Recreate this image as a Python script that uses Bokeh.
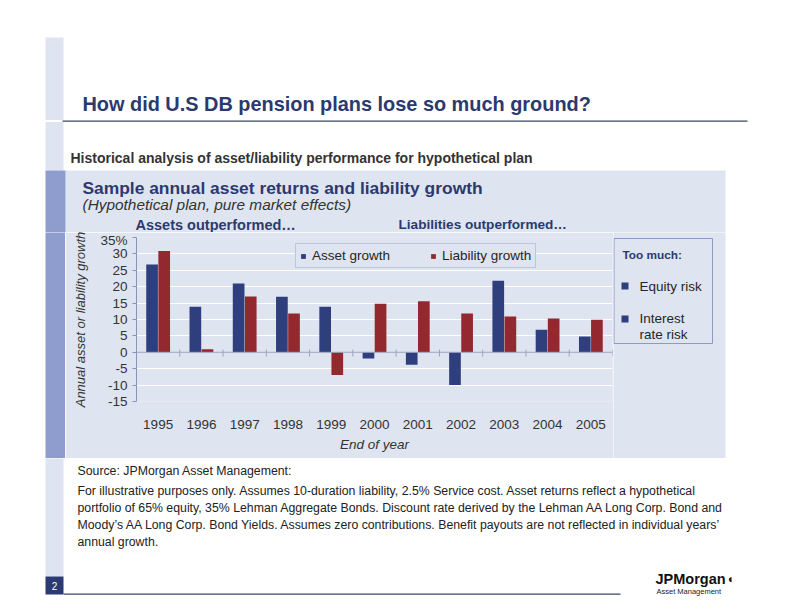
from bokeh.plotting import figure
from bokeh.layouts import column, row
from bokeh.models import (FactorRange, Range1d, FixedTicker, Label, Span, Legend,
                          LegendItem, ColumnDataSource)
from bokeh.transform import dodge
from bokeh.embed import file_html
from bokeh.resources import INLINE

# ---------------- data ----------------
years = ["1995", "1996", "1997", "1998", "1999", "2000", "2001", "2002", "2003", "2004", "2005"]
asset_growth = [26.8, 13.9, 21.0, 16.9, 13.9, -1.9, -3.8, -10.0, 21.8, 6.9, 4.8]
liability_growth = [30.9, 0.9, 17.0, 11.8, -6.9, 14.8, 15.6, 11.8, 10.9, 10.3, 9.9]
y_ticks = [-15, -10, -5, 0, 5, 10, 15, 20, 25, 30, 35]
y_tick_labels = ["-15", "-10", "-5", "0", "5", "10", "15", "20", "25", "30", "35%"]

# ---------------- style ----------------
NAVY = "#2b3a6e"
BLUE = "#2f3f7e"
RED = "#93282f"
PANEL = "#dfe4f1"
STRIPE = "#8f9cce"
TXT = "#262626"
GREY = "#333333"
LINE = "#3b4566"
SANS = "Liberation Sans"

# page coordinates
X0, X1 = 0, 776
Y_TOP, Y_MID0, Y_MID1, Y_BOT = 0, 232, 458, 596
CH_L, CH_R = 65, 613          # chart figure, horizontal extent
FR_L, FR_R, FR_T, FR_B = 136, 612, 237, 401   # chart frame


def no_align(f):
    if "frame_align" in f.properties():
        f.frame_align = False
    return f


def deco_fig(x0, x1, y0, y1):
    f = figure(width=int(x1 - x0), height=int(y1 - y0), output_backend="svg",
               toolbar_location=None, x_range=Range1d(x0, x1), y_range=Range1d(y1, y0),
               x_axis_type=None, y_axis_type=None, min_border=0)
    f.grid.visible = False
    f.outline_line_color = None
    f.background_fill_color = "white"
    f.border_fill_color = "white"
    return no_align(f)


def rect(f, l, r, t, b, color, line=None):
    f.quad(left=[l], right=[r], top=[t], bottom=[b], fill_color=color,
           line_color=line, line_width=1)


def text(f, x, y, t, size, color=TXT, style="normal", align="left", font=SANS):
    f.add_layout(Label(x=x, y=y, text=t, text_font=font, text_font_size=f"{size}px",
                       text_font_style=style, text_color=color, text_align=align,
                       text_baseline="middle"))


# ---------------- top band ----------------
top = deco_fig(X0, X1, Y_TOP, Y_MID0)
rect(top, 45, 63, 37, 119.5, PANEL)
rect(top, 45, 63, 121.5, 170, PANEL)
rect(top, 62, 747, 120, 121.3, LINE)
rect(top, 65, 725, 170, Y_MID0 + 1, PANEL)
rect(top, 45, 65, 170, Y_MID0 + 1, STRIPE)
text(top, 82, 103, "How did U.S DB pension plans lose so much ground?", 19.9, NAVY, "bold")
text(top, 70, 157, "Historical analysis of asset/liability performance for hypothetical plan",
     14, GREY, "bold")
text(top, 82, 187, "Sample annual asset returns and liability growth", 17.4, NAVY, "bold")
text(top, 82, 204, "(Hypothetical plan, pure market effects)", 15.4, GREY, "italic")
text(top, 135, 224, "Assets outperformed\u2026", 14.5, NAVY, "bold")
text(top, 398, 224, "Liabilities outperformed\u2026", 13.6, NAVY, "bold")

# ---------------- left of chart ----------------
left = deco_fig(X0, CH_L, Y_MID0, Y_MID1)
rect(left, 45, CH_L + 1, Y_MID0 - 1, Y_MID1 + 1, STRIPE)

# ---------------- right of chart ----------------
right = deco_fig(CH_R, X1, Y_MID0, Y_MID1)
rect(right, CH_R - 1, 725, Y_MID0 - 1, Y_MID1 + 1, PANEL)
rect(right, 613.5, 712, 238, 343, PANEL, "#8f99c4")
text(right, 622, 254, "Too much:", 11.8, NAVY, "bold")
rect(right, 621, 628, 282, 289, BLUE)
rect(right, 621, 628, 315, 322, BLUE)
text(right, 639, 286, "Equity risk", 13.5, TXT)
text(right, 639, 318, "Interest", 13.5, TXT)
text(right, 639, 334, "rate risk", 13.5, TXT)

# ---------------- bottom band ----------------
bot = deco_fig(X0, X1, Y_MID1, Y_BOT)
rect(bot, 45, 63, Y_MID1 - 1, 576, PANEL)
rect(bot, 45, 63, 576, 594, "#2b3a73")
rect(bot, 63, 620, 593, 594.3, LINE)
foot = [
    "Source: JPMorgan Asset Management:",
    "For illustrative purposes only.  Assumes 10-duration liability, 2.5% Service cost.  Asset returns reflect a hypothetical",
    "portfolio of 65% equity, 35% Lehman Aggregate Bonds. Discount rate derived by the Lehman AA Long Corp. Bond and",
    "Moody\u2019s AA Long Corp. Bond Yields. Assumes zero contributions.  Benefit payouts are not reflected in individual years\u2019",
    "annual growth.",
]
foot_y = [470, 490, 507, 524, 541]
for line, yy in zip(foot, foot_y):
    text(bot, 77, yy, line, 12.3, "#222222")
text(bot, 54, 585, "2", 10, "white", align="center")
text(bot, 655, 578, "JPMorgan", 14.5, "#111111", "bold")
text(bot, 726, 578, "\u25d6", 12, "#111111")
text(bot, 656, 591, "Asset Management", 7.5, "#222222")

# ---------------- chart ----------------
p = figure(width=CH_R - CH_L, height=Y_MID1 - Y_MID0, output_backend="svg",
           toolbar_location=None, x_range=FactorRange(*years), y_range=Range1d(-15, 35),
           min_border_left=FR_L - CH_L, min_border_right=CH_R - FR_R,
           min_border_top=FR_T - Y_MID0, min_border_bottom=Y_MID1 - FR_B)
no_align(p)
p.background_fill_color = PANEL
p.border_fill_color = PANEL
p.outline_line_color = None

src = ColumnDataSource(dict(years=years, assets=asset_growth, liabilities=liability_growth))
r_a = p.vbar(x=dodge("years", -0.14, range=p.x_range), top="assets", bottom=0, width=0.27,
             source=src, fill_color=BLUE, line_color=None)
r_l = p.vbar(x=dodge("years", 0.14, range=p.x_range), top="liabilities", bottom=0, width=0.27,
             source=src, fill_color=RED, line_color=None)

p.add_layout(Span(location=0, dimension="width", line_color="#9aa1bf", line_width=1))
bsrc = ColumnDataSource(dict(years=years, y0=[0.8] * len(years), y1=[-1.3] * len(years)))
p.segment(x0=dodge("years", 0.5, range=p.x_range), x1=dodge("years", 0.5, range=p.x_range),
          y0="y0", y1="y1", source=bsrc, line_color="#9aa1bf", line_width=1)

p.xgrid.visible = False
p.ygrid.grid_line_color = "white"
p.ygrid.grid_line_width = 1
p.ygrid.ticker = FixedTicker(ticks=y_ticks)

ya = p.yaxis[0]
ya.ticker = FixedTicker(ticks=y_ticks)
ya.major_label_overrides = dict(zip(y_ticks, y_tick_labels))
ya.axis_line_color = "#8a93b8"
ya.major_tick_line_color = "#8a93b8"
ya.major_tick_out = 4
ya.major_tick_in = 0
ya.minor_tick_line_color = None
ya.major_label_text_font = SANS
ya.major_label_text_font_size = "13.5px"
ya.major_label_text_color = GREY
ya.major_label_standoff = 5
ya.axis_label = "Annual asset or liability growth"
ya.axis_label_text_font = SANS
ya.axis_label_text_font_size = "13px"
ya.axis_label_text_font_style = "italic"
ya.axis_label_text_color = GREY
ya.axis_label_standoff = 9

xa = p.xaxis[0]
xa.axis_line_color = None
xa.major_tick_line_color = None
xa.major_label_text_font = SANS
xa.major_label_text_font_size = "13.5px"
xa.major_label_text_color = GREY
xa.major_label_standoff = 12
xa.axis_label = "End of year"
xa.axis_label_text_font = SANS
xa.axis_label_text_font_size = "13.5px"
xa.axis_label_text_font_style = "italic"
xa.axis_label_text_color = GREY
xa.axis_label_standoff = 5

legend = Legend(items=[LegendItem(label="Asset growth", renderers=[r_a]),
                       LegendItem(label="Liability growth", renderers=[r_l])],
                orientation="horizontal", location=(295 - FR_L, FR_B - 268),
                glyph_width=6, glyph_height=6, label_text_font=SANS,
                label_text_font_size="13.5px", label_text_color=TXT,
                background_fill_color=PANEL, background_fill_alpha=1.0,
                border_line_color="#9aa5d0", padding=4, spacing=40,
                label_standoff=6, margin=0, label_height=12)
p.add_layout(legend, "center")

layout = column(top, row(left, p, right, spacing=0), bot, spacing=0)
open("out.html", "w").write(file_html(layout, INLINE))
